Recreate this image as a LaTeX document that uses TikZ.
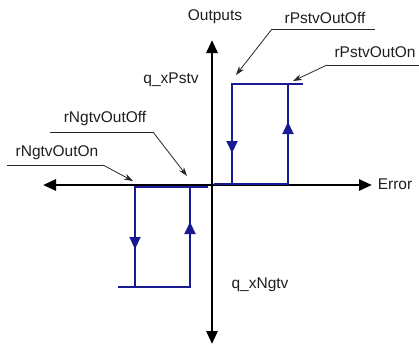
\documentclass[tikz,border=0pt]{standalone}
\usepackage{fontspec}
\setmainfont{Liberation Sans}
\usetikzlibrary{arrows.meta}
\definecolor{hblue}{RGB}{25,25,145}
\definecolor{txt}{RGB}{30,30,30}
\tikzset{
  axis/.style={line width=2.8pt, black, {Triangle[length=13pt,width=11pt]}-{Triangle[length=13pt,width=11pt]}},
  hyst/.style={line width=2pt, hblue},
  midarrow/.style={hblue, line width=2pt, -{Triangle[length=12pt,width=11pt]}},
  leader/.style={line width=0.8pt, black!85},
  pointer/.style={line width=0.8pt, black!85, -{Stealth[length=9pt,width=6pt]}},
  lbl/.style={font=\fontsize{15.5}{18}\selectfont, text=txt, inner sep=0pt}
}
\begin{document}
\begin{tikzpicture}[x=1pt,y=-1pt]
\useasboundingbox (0,0) rectangle (419,346);
% axes ends
\coordinate (xl) at (43,185);
\coordinate (xr) at (372,185);
\coordinate (yt) at (212,40);
\coordinate (yb) at (212,344);
\draw[axis] (xl) -- (xr);
\draw[axis] (yb) -- (yt);
% positive hysteresis
\coordinate (p0) at (214,183.8);
\coordinate (p1) at (232,183.8);
\coordinate (p2) at (288,183.8);
\coordinate (p3) at (232,84);
\coordinate (p4) at (288,84);
\coordinate (p5) at (303,84);
\draw[hyst] (p0) -- (p2) -- (p4);
\draw[hyst] (p1) -- (p3) -- (p5);
\coordinate (pa1) at (232,130);
\coordinate (pa2) at (232,153);
\coordinate (pa3) at (288,145);
\coordinate (pa4) at (288,122);
\draw[midarrow] (pa1) -- (pa2);
\draw[midarrow] (pa3) -- (pa4);
% negative hysteresis
\coordinate (n0) at (208,187.3);
\coordinate (n1) at (190,187.3);
\coordinate (n2) at (135,187.3);
\coordinate (n3) at (190,287);
\coordinate (n4) at (135,287);
\coordinate (n5) at (118,287);
\draw[hyst] (n0) -- (n2) -- (n4);
\draw[hyst] (n1) -- (n3) -- (n5);
\coordinate (na1) at (135,225);
\coordinate (na2) at (135,249);
\coordinate (na3) at (190,245);
\coordinate (na4) at (190,222);
\draw[midarrow] (na1) -- (na2);
\draw[midarrow] (na3) -- (na4);
% axis labels
\node[lbl] (outputs) at (215,17) {Outputs};
\node[lbl] (error) at (395,184) {Error};
\node[lbl] (qp) at (171,80) {q\_xPstv};
\node[lbl] (qn) at (260,285) {q\_xNgtv};
% leader labels
\node[lbl] (ppoff) at (325,18) {rPstvOutOff};
\coordinate (ppoffa) at (272,29);
\coordinate (ppoffb) at (375,29);
\coordinate (ppofft) at (236,75);
\draw[leader] (ppoffb) -- (ppoffa);
\draw[pointer] (ppoffa) -- (ppofft);

\node[lbl] (ppon) at (375,52) {rPstvOutOn};
\coordinate (ppona) at (327,65);
\coordinate (pponb) at (419,65);
\coordinate (ppont) at (293,81);
\draw[leader] (pponb) -- (ppona);
\draw[pointer] (ppona) -- (ppont);

\node[lbl] (pnoff) at (105,118) {rNgtvOutOff};
\coordinate (pnoffa) at (153,132);
\coordinate (pnoffb) at (50,132);
\coordinate (pnofft) at (187,176);
\draw[leader] (pnoffb) -- (pnoffa);
\draw[pointer] (pnoffa) -- (pnofft);

\node[lbl] (pnon) at (57,153) {rNgtvOutOn};
\coordinate (pnona) at (103,165);
\coordinate (pnonb) at (7,165);
\coordinate (pnont) at (133,181);
\draw[leader] (pnonb) -- (pnona);
\draw[pointer] (pnona) -- (pnont);
\end{tikzpicture}
\end{document}
